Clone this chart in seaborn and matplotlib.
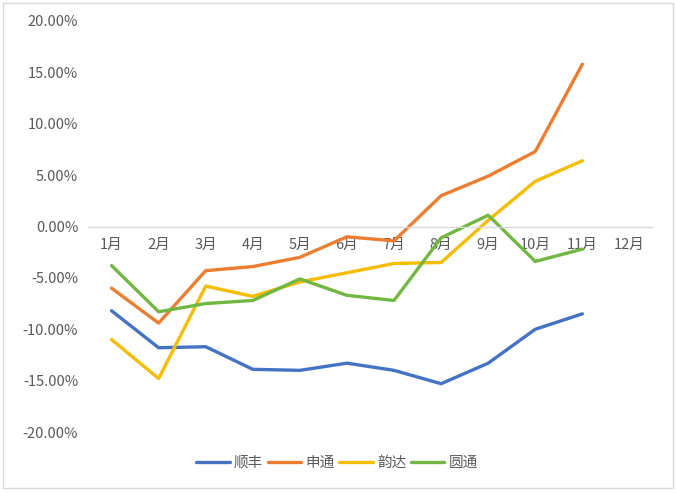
import matplotlib
matplotlib.use("Agg")
import matplotlib.pyplot as plt
import matplotlib.ticker as mticker
import seaborn as sns
import pandas as pd

months = ["1月", "2月", "3月", "4月", "5月", "6月", "7月", "8月", "9月", "10月", "11月", "12月"]
series_names = ["顺丰", "申通", "韵达", "圆通"]
sf = [-8.2, -11.8, -11.7, -13.9, -14.0, -13.3, -14.0, -15.3, -13.3, -10.0, -8.5]
sto = [-6.0, -9.4, -4.3, -3.9, -3.0, -1.0, -1.4, 3.0, 4.9, 7.3, 15.8]
yunda = [-11.0, -14.8, -5.8, -6.8, -5.4, -4.5, -3.6, -3.5, 0.6, 4.4, 6.4]
yto = [-3.8, -8.3, -7.5, -7.2, -5.1, -6.7, -7.2, -1.1, 1.1, -3.4, -2.2]
colors = ["#4472C4", "#ED7D31", "#F5BC00", "#72B741"]

rows = []
for name, vals in zip(series_names, [sf, sto, yunda, yto]):
    for i, v in enumerate(vals):
        rows.append({"month": i, "value": v, "company": name})
df = pd.DataFrame(rows)

sns.set_theme(style="white")
plt.rcParams["font.family"] = ["Noto Sans CJK SC", "DejaVu Sans"]

fig = plt.figure(figsize=(6.76, 4.93), dpi=100)
ax = fig.add_axes([88 / 676, 1 - 432 / 493, (653 - 88) / 676, (432 - 21) / 493])

sns.lineplot(data=df, x="month", y="value", hue="company", palette=colors,
             hue_order=series_names, linewidth=2.4, ax=ax, legend=True)

ax.set_xlim(-0.5, len(months) - 0.5)
ax.set_ylim(-20, 20)
ax.set_xticks(range(len(months)))
ax.set_xticklabels(months)
ax.set_yticks([20, 15, 10, 5, 0, -5, -10, -15, -20])
ax.yaxis.set_major_formatter(mticker.FuncFormatter(lambda v, p: f"{v:.2f}%"))
ax.set_xlabel("")
ax.set_ylabel("")

for s in ["top", "right", "left"]:
    ax.spines[s].set_visible(False)
ax.spines["bottom"].set_position(("data", 0))
ax.spines["bottom"].set_color("#D9D9D9")
ax.spines["bottom"].set_linewidth(1.0)
ax.tick_params(axis="both", length=0, labelsize=10.5, colors="#595959")
ax.tick_params(axis="x", pad=8)
ax.tick_params(axis="y", pad=7)
ax.grid(False)

handles, labels = ax.get_legend_handles_labels()
ax.legend(handles, labels, loc="center", bbox_to_anchor=(337 / 676, 1 - 463 / 493),
          bbox_transform=fig.transFigure, ncol=4, frameon=False, fontsize=10.5,
          handlelength=2.3, handletextpad=0.3, columnspacing=0.3, labelcolor="#595959")

border = plt.Rectangle((3 / 676, 1 - 488 / 493), 670 / 676, 485 / 493, transform=fig.transFigure,
                       fill=False, edgecolor="#D9D9D9", linewidth=1.0)
fig.patches.append(border)

fig.savefig("out.png", dpi=100)
